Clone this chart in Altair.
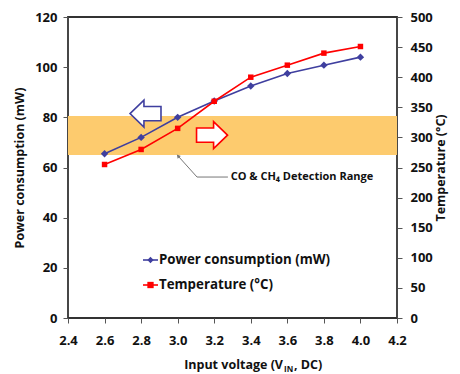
import altair as alt
import pandas as pd

# ---- data ----
voltage = [2.6, 2.8, 3.0, 3.2, 3.4, 3.6, 3.8, 4.0]
power = [65.5, 72.0, 80.0, 86.5, 92.5, 97.5, 100.8, 104.0]
temperature = [255, 280, 315, 360, 400, 420, 440, 451]

band_x = [2.4, 4.2]
band_power = [65.0, 80.5]  # CO & CH4 detection range (power units)

x_ticks = [2.4, 2.6, 2.8, 3.0, 3.2, 3.4, 3.6, 3.8, 4.0, 4.2]
power_ticks = [0, 20, 40, 60, 80, 100, 120]
temp_ticks = [0, 50, 100, 150, 200, 250, 300, 350, 400, 450, 500]

series_names = ["Power consumption (mW)", "Temperature (°C)"]
series_colors = ["#3F3F9F", "#FF0000"]

annot_text = "CO & CH₄ Detection Range"
leader_x = [3.002, 3.106, 3.275]
leader_y = [64.6, 56.2, 56.2]
text_pos = [3.29, 56.2]

arrow_left = [2.824, 81.5]
arrow_right = [3.188, 72.9]

FONT = "Open Sans"
W, H = 329, 301

df = pd.DataFrame({"V": voltage, "P": power, "T": temperature})
band_df = pd.DataFrame({"x": [band_x[0]], "x2": [band_x[1]], "y": [band_power[0]], "y2": [band_power[1]]})

xscale = alt.Scale(domain=[2.4, 4.2], nice=False, zero=False)
pscale = alt.Scale(domain=[0, 120], nice=False)
tscale = alt.Scale(domain=[0, 500], nice=False)

x_axis = alt.Axis(values=x_ticks, format=".1f", title=None, labelPadding=11, labelOverlap=False)

band = alt.Chart(band_df).mark_rect(color="#FDCB6E").encode(
    x=alt.X("x:Q", scale=xscale, axis=x_axis),
    x2="x2:Q",
    y=alt.Y("y:Q", scale=pscale,
            axis=alt.Axis(values=power_ticks, title="Power consumption (mW)", orient="left",
                          labelPadding=6, titlePadding=8, labelOverlap=False)),
    y2="y2:Q",
)

p_line = alt.Chart(df).mark_line(color=series_colors[0], strokeWidth=1.6).encode(
    x=alt.X("V:Q", scale=xscale, axis=x_axis), y=alt.Y("P:Q", scale=pscale))
p_pts = alt.Chart(df).mark_point(shape="diamond", filled=True, size=55, color=series_colors[0], opacity=1).encode(
    x=alt.X("V:Q", scale=xscale, axis=x_axis), y="P:Q")

# block arrows (custom path symbols)
left_arrow_path = "M -1 0 L -0.1 -0.87 L -0.1 -0.46 L 1 -0.46 L 1 0.46 L -0.1 0.46 L -0.1 0.87 Z"
right_arrow_path = "M 1 0 L 0.1 -0.87 L 0.1 -0.46 L -1 -0.46 L -1 0.46 L 0.1 0.46 L 0.1 0.87 Z"
arr_l = alt.Chart(pd.DataFrame({"x": [arrow_left[0]], "y": [arrow_left[1]]})).mark_point(
    shape=left_arrow_path, size=960, filled=True, fill="white", stroke="#3F3F9F", strokeWidth=1.6, opacity=1
).encode(x=alt.X("x:Q", scale=xscale, axis=x_axis), y="y:Q")
arr_r = alt.Chart(pd.DataFrame({"x": [arrow_right[0]], "y": [arrow_right[1]]})).mark_point(
    shape=right_arrow_path, size=960, filled=True, fill="white", stroke="#FF0000", strokeWidth=1.6, opacity=1
).encode(x=alt.X("x:Q", scale=xscale, axis=x_axis), y="y:Q")

# leader line + annotation
lead_df = pd.DataFrame({"x": leader_x, "y": leader_y, "o": [0, 1, 2]})
lead = alt.Chart(lead_df).mark_line(color="#777", strokeWidth=1).encode(
    x=alt.X("x:Q", scale=xscale, axis=x_axis), y="y:Q", order="o:O")
lead_head = alt.Chart(lead_df.iloc[[0]]).mark_point(shape="triangle-up", angle=319, size=18, filled=True,
                                                    color="#777", opacity=1).encode(
    x=alt.X("x:Q", scale=xscale, axis=x_axis), y="y:Q")
annot = alt.Chart(pd.DataFrame({"x": [text_pos[0]], "y": [text_pos[1]], "t": [annot_text]})).mark_text(
    align="left", baseline="middle", font=FONT, fontSize=11, fontWeight="bold", color="#111"
).encode(x=alt.X("x:Q", scale=xscale, axis=x_axis), y="y:Q", text="t:N")

# manual legend (pixel positions within the plot area)
leg_df = pd.DataFrame({"name": series_names, "color": series_colors, "shape": ["diamond", "square"],
                       "ypix": [243, 268]})
leg_rule = alt.Chart(leg_df).mark_rule(strokeWidth=1.6).encode(
    x=alt.value(75), x2=alt.value(90), y=alt.Y("ypix:Q", scale=None),
    color=alt.Color("color:N", scale=None))
leg_pt = alt.Chart(leg_df).mark_point(filled=True, size=40, opacity=1).encode(
    x=alt.value(82.5), y=alt.Y("ypix:Q", scale=None),
    color=alt.Color("color:N", scale=None), shape=alt.Shape("shape:N", scale=None))
leg_txt = alt.Chart(leg_df).mark_text(align="left", baseline="middle", font=FONT, fontSize=13.3,
                                      fontWeight="bold", color="#111").encode(
    x=alt.value(91), y=alt.Y("ypix:Q", scale=None), text="name:N")

# x axis title with subscript (manual text)
xt1 = alt.Chart(pd.DataFrame({"t": ["Input voltage (V"]})).mark_text(
    align="right", baseline="alphabetic", font=FONT, fontSize=12.5, fontWeight="bold", color="#111"
).encode(x=alt.value(215), y=alt.value(51 + H), text="t:N")
xt2 = alt.Chart(pd.DataFrame({"t": ["IN"]})).mark_text(
    align="left", baseline="alphabetic", font=FONT, fontSize=8, fontWeight="bold", color="#111"
).encode(x=alt.value(216), y=alt.value(54 + H), text="t:N")
xt3 = alt.Chart(pd.DataFrame({"t": [", DC)"]})).mark_text(
    align="left", baseline="alphabetic", font=FONT, fontSize=12.5, fontWeight="bold", color="#111"
).encode(x=alt.value(226), y=alt.value(51 + H), text="t:N")

left_layer = alt.layer(band, p_line, p_pts, arr_l, arr_r, lead, lead_head, annot,
                       leg_rule, leg_pt, leg_txt, xt1, xt2, xt3)

t_axis = alt.Axis(values=temp_ticks, title="Temperature (°C)", orient="right", titleAngle=270,
                  titleBaseline="top", labelPadding=8, titlePadding=2, labelOverlap=False)
t_line = alt.Chart(df).mark_line(color=series_colors[1], strokeWidth=1.6).encode(
    x=alt.X("V:Q", scale=xscale, axis=x_axis),
    y=alt.Y("T:Q", scale=tscale, axis=t_axis))
t_pts = alt.Chart(df).mark_point(shape="square", filled=True, size=30, color=series_colors[1], opacity=1).encode(
    x=alt.X("V:Q", scale=xscale, axis=x_axis), y=alt.Y("T:Q", scale=tscale, axis=t_axis))
right_layer = alt.layer(t_line, t_pts)

chart = alt.layer(left_layer, right_layer).resolve_scale(y="independent").properties(
    width=W, height=H, padding={"left": 5, "top": 3, "right": 4, "bottom": 0}, background="white"
).configure_view(
    stroke="#333", strokeWidth=1.8
).configure_axis(
    labelFont=FONT, labelFontSize=13, labelFontWeight="bold", labelColor="#111",
    titleFont=FONT, titleFontSize=12.5, titleFontWeight="bold", titleColor="#111",
    tickColor="#555", tickSize=5, domain=False, grid=False, labelOverlap=False, labelBound=False,
    labelFlush=False,
)

chart.save("out.html", embed_options={"renderer": "svg", "actions": False})
